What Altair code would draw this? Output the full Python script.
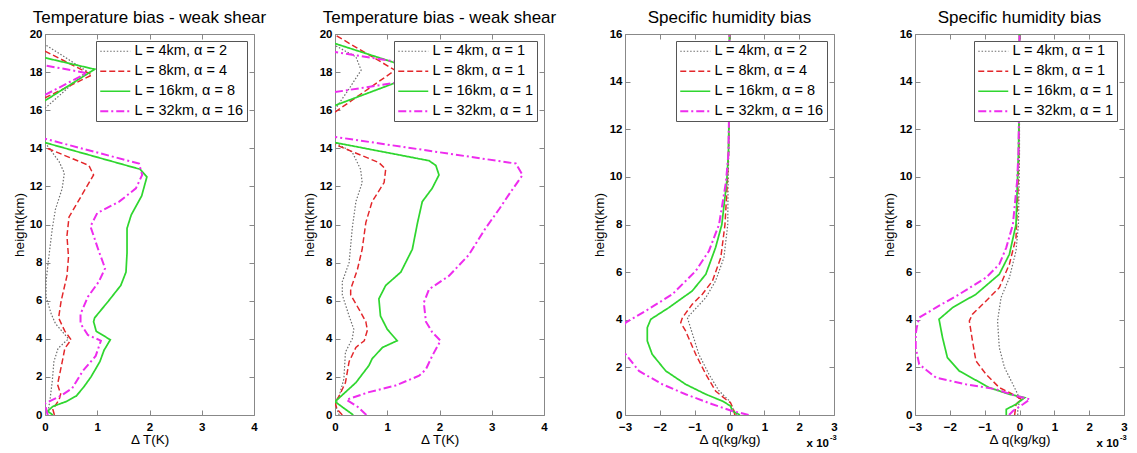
import altair as alt
import pandas as pd

# ---------------- labels / ticks ----------------
TITLE_T = "Temperature bias - weak shear"
TITLE_Q = "Specific humidity bias"
XTITLE_T = "Δ T(K)"
XTITLE_Q = "Δ q(kg/kg)"
YTITLE = "height(km)"
NOTE_MAIN = "x 10"
NOTE_EXP = "-3"
LABELS_A = ["L = 4km, α = 2", "L = 8km, α = 4", "L = 16km, α = 8", "L = 32km, α = 16"]
LABELS_B = ["L = 4km, α = 1", "L = 8km, α = 1", "L = 16km, α = 1", "L = 32km, α = 1"]
T_XTICKS = [0, 1, 2, 3, 4]
T_YTICKS = [0, 2, 4, 6, 8, 10, 12, 14, 16, 18, 20]
Q_XTICKS = [-3, -2, -1, 0, 1, 2, 3]
Q_YTICKS = [0, 2, 4, 6, 8, 10, 12, 14, 16]

# ---------------- panel 1: temperature bias, alpha varies ----------------
p1_gray_lo_h = [0, 0.9, 1.8, 2.8, 3.5, 4.0, 4.8, 5.3, 6.2, 7.0, 8.0, 9.8, 10.8, 11.9, 12.7, 13.3, 14.3]
p1_gray_lo_v = [0.05, 0.1, 0.14, 0.17, 0.25, 0.45, 0.2, 0.12, 0.02, 0.02, 0.06, 0.14, 0.2, 0.33, 0.37, 0.27, 0]
p1_gray_hi_h = [16.1, 18.05, 19.45]
p1_gray_hi_v = [0, 0.8, 0]
p1_red_lo_h = [0, 0.3, 0.8, 1.1, 1.6, 2.8, 3.5, 3.95, 4.4, 5.1, 6.0, 7.3, 8.3, 9.4, 10.4, 11.0, 11.9, 12.6, 13.1, 14.05]
p1_red_lo_v = [0.18, 0.15, 0.27, 0.3, 0.24, 0.33, 0.38, 0.5, 0.38, 0.26, 0.31, 0.42, 0.45, 0.42, 0.46, 0.59, 0.78, 0.93, 0.84, 0]
p1_red_hi_h = [16.65, 17.85, 19.1]
p1_red_hi_v = [0, 0.9, 0]
p1_green_lo_h = [0, 0.2, 0.45, 0.7, 1.0, 1.5, 2.0, 2.8, 3.4, 3.95, 4.4, 4.9, 5.1, 6.0, 6.8, 7.5, 8.5, 9.8, 10.5, 11.5, 12.5, 12.9, 14.3]
p1_green_lo_v = [0.15, 0.05, 0.15, 0.4, 0.6, 0.75, 0.88, 1.05, 1.13, 1.25, 0.98, 0.93, 0.95, 1.22, 1.45, 1.55, 1.57, 1.57, 1.65, 1.85, 1.95, 1.82, 0]
p1_green_hi_h = [16.5, 18.15, 18.75]
p1_green_hi_v = [0, 0.95, 0]
p1_mag_lo_h = [0, 0.6, 1.0, 1.4, 2.3, 3.1, 3.9, 4.2, 4.8, 5.3, 6.2, 7.0, 7.7, 8.6, 9.9, 10.6, 11.2, 11.9, 12.6, 13.2, 14.5]
p1_mag_lo_v = [0.05, 0, 0.3, 0.52, 0.72, 0.97, 1.07, 0.82, 0.68, 0.68, 0.82, 1.03, 1.15, 1.03, 0.87, 1.0, 1.42, 1.74, 1.86, 1.8, 0]
p1_mag_hi_h = [16.8, 17.95, 18.35]
p1_mag_hi_v = [0, 0.8, 0]

# ---------------- panel 2: temperature bias, alpha = 1 ----------------
p2_gray_lo_h = [0, 0.5, 1.0, 1.9, 3.3, 4.0, 4.5, 5.2, 6.3, 7.0, 8.0, 9.8, 11.2, 12.2, 12.9, 13.8, 14.3]
p2_gray_lo_v = [0.08, 0.01, 0.08, 0.17, 0.2, 0.33, 0.36, 0.27, 0.14, 0.14, 0.27, 0.33, 0.4, 0.52, 0.49, 0.33, 0]
p2_gray_hi_h = [16.05, 17.0, 18.1, 18.8, 19.4]
p2_gray_hi_v = [0, 0.24, 0.5, 0.4, 0]
p2_red_lo_h = [0, 0.3, 0.66, 1.0, 1.7, 2.8, 3.55, 3.9, 4.45, 4.9, 5.55, 6.3, 6.6, 7.65, 8.7, 10.1, 11.2, 12.2, 12.9, 13.25, 14.2]
p2_red_lo_v = [0.14, 0.04, 0, 0.08, 0.2, 0.27, 0.4, 0.56, 0.62, 0.59, 0.46, 0.3, 0.3, 0.43, 0.52, 0.59, 0.71, 0.94, 0.97, 0.84, 0]
p2_red_hi_h = [15.9, 18.1, 19.95]
p2_red_hi_v = [0, 1.15, 0]
p2_green_lo_h = [0, 0.3, 0.7, 1.7, 2.6, 2.95, 3.55, 3.9, 4.5, 5.2, 6.1, 6.8, 7.5, 8.7, 10.1, 11.2, 11.9, 12.6, 13.1, 13.35, 14.3]
p2_green_lo_v = [0.35, 0.2, 0, 0.4, 0.65, 0.71, 0.91, 1.19, 1.0, 0.87, 0.84, 0.97, 1.26, 1.48, 1.58, 1.67, 1.86, 1.99, 1.93, 1.8, 0]
p2_green_hi_h = [16.25, 18.0, 19.5]
p2_green_hi_v = [0, 1.7, 0]
p2_mag_lo_h = [0, 0.4, 0.8, 1.2, 1.55, 2.06, 2.4, 3.1, 3.9, 4.35, 4.9, 5.9, 6.6, 7.3, 8.4, 9.8, 10.8, 11.7, 12.6, 13.2, 14.6]
p2_mag_lo_v = [0.6, 0.45, 0.22, 0.65, 1.16, 1.61, 1.74, 1.86, 2.02, 1.86, 1.74, 1.7, 1.8, 2.18, 2.56, 2.88, 3.14, 3.36, 3.59, 3.46, 0]
p2_mag_hi_h = [16.95, 18.0, 19.05]
p2_mag_hi_v = [0, 2.45, 0]

# ---------------- panel 3: humidity bias (x 1e-3), alpha varies ----------------
p3_gray_h = [0, 0.17, 0.59, 1.01, 1.71, 2.55, 3.67, 4.09, 4.93, 5.63, 6.61, 8.0, 9.8, 11, 13, 16]
p3_gray_v = [0.2, 0.13, 0, -0.3, -0.59, -0.88, -1.12, -1.21, -0.68, -0.4, -0.16, -0.05, -0.04, -0.02, -0.01, 0]
p3_red_h = [0, 0.17, 0.52, 0.66, 1.01, 1.71, 2.55, 3.53, 3.88, 4.09, 4.65, 5.07, 5.63, 6.61, 8.0, 9.8, 11, 13, 16]
p3_red_v = [0.15, 0.13, 0.03, -0.11, -0.4, -0.68, -0.97, -1.26, -1.4, -1.35, -1.07, -0.78, -0.49, -0.25, -0.13, -0.06, -0.03, -0.01, 0]
p3_green_h = [0, 0.17, 0.38, 0.59, 0.87, 1.29, 1.85, 2.55, 3.11, 3.67, 4.02, 4.51, 5.21, 5.91, 7.03, 8.0, 9.8, 11, 13, 16]
p3_green_v = [0.3, 0.08, 0.03, -0.21, -0.68, -1.26, -1.83, -2.22, -2.36, -2.36, -2.26, -1.74, -1.07, -0.68, -0.4, -0.22, -0.08, -0.03, -0.01, 0]
p3_mag_h = [0, 0.17, 0.45, 0.87, 1.29, 1.85, 2.55, 3.2, 3.88, 4.37, 5.07, 6.05, 6.89, 8.0, 9.8, 11, 13, 16]
p3_mag_v = [0.55, 0.08, -0.49, -1.26, -1.93, -2.6, -2.98, -3.3, -2.98, -2.41, -1.64, -0.97, -0.59, -0.3, -0.1, -0.03, -0.01, 0]

# ---------------- panel 4: humidity bias (x 1e-3), alpha = 1 ----------------
p4_gray_h = [0, 0.17, 0.59, 0.87, 1.29, 1.99, 2.83, 3.95, 4.93, 5.77, 6.89, 8.0, 9.8, 11, 13, 16]
p4_gray_v = [-0.05, -0.05, 0, -0.05, -0.19, -0.43, -0.58, -0.63, -0.53, -0.29, -0.1, -0.03, -0.01, 0, 0, 0]
p4_red_h = [0, 0.45, 0.66, 0.87, 1.15, 1.71, 2.27, 3.11, 3.95, 4.23, 4.79, 5.35, 6.33, 7.45, 9.13, 11, 13, 16]
p4_red_v = [-0.14, -0.1, 0.05, -0.19, -0.58, -0.96, -1.25, -1.35, -1.44, -1.35, -0.96, -0.58, -0.29, -0.1, -0.05, -0.02, -0.01, 0]
p4_green_h = [0, 0.24, 0.45, 0.73, 0.87, 1.15, 1.85, 2.41, 3.25, 4.02, 4.51, 5.07, 5.91, 6.75, 8.0, 9.8, 11, 13, 16]
p4_green_v = [-0.38, -0.38, -0.1, 0.15, -0.29, -0.87, -1.73, -2.07, -2.21, -2.31, -1.92, -1.25, -0.58, -0.29, -0.1, -0.06, -0.03, -0.01, 0]
p4_mag_h = [0, 0.17, 0.45, 0.66, 0.8, 1.08, 1.29, 1.57, 2.13, 2.83, 3.4, 3.67, 4.09, 4.51, 5.07, 5.77, 6.33, 7.03, 8.0, 9.8, 11, 13, 16]
p4_mag_v = [-0.3, -0.19, 0.1, 0.3, -0.1, -0.67, -1.54, -2.4, -2.88, -2.98, -2.98, -2.95, -2.88, -2.4, -1.73, -0.96, -0.58, -0.38, -0.19, -0.07, -0.03, -0.01, 0]

# ---------------- styles ----------------
COLORS = ["#6e6e6e", "#e3262a", "#2fd62f", "#ee2cee"]
DASHES = [[1.5, 1.8], [6, 3], [1, 0], [8, 3, 2, 3]]
WIDTHS = [1.2, 2, 2, 2]
FONT = "Liberation Sans"
PW, PH = 209, 381


def frame(series, labels):
    rows = []
    for label, segs in zip(labels, series):
        for si, (hs, vs) in enumerate(segs):
            for h, v in zip(hs, vs):
                rows.append({"series": label, "seg": f"{label}|{si}", "h": h, "v": v})
    return pd.DataFrame(rows)


df1 = frame([
    [(p1_gray_lo_h, p1_gray_lo_v), (p1_gray_hi_h, p1_gray_hi_v)],
    [(p1_red_lo_h, p1_red_lo_v), (p1_red_hi_h, p1_red_hi_v)],
    [(p1_green_lo_h, p1_green_lo_v), (p1_green_hi_h, p1_green_hi_v)],
    [(p1_mag_lo_h, p1_mag_lo_v), (p1_mag_hi_h, p1_mag_hi_v)],
], LABELS_A)
df2 = frame([
    [(p2_gray_lo_h, p2_gray_lo_v), (p2_gray_hi_h, p2_gray_hi_v)],
    [(p2_red_lo_h, p2_red_lo_v), (p2_red_hi_h, p2_red_hi_v)],
    [(p2_green_lo_h, p2_green_lo_v), (p2_green_hi_h, p2_green_hi_v)],
    [(p2_mag_lo_h, p2_mag_lo_v), (p2_mag_hi_h, p2_mag_hi_v)],
], LABELS_B)
df3 = frame([
    [(p3_gray_h, p3_gray_v)], [(p3_red_h, p3_red_v)],
    [(p3_green_h, p3_green_v)], [(p3_mag_h, p3_mag_v)],
], LABELS_A)
df4 = frame([
    [(p4_gray_h, p4_gray_v)], [(p4_red_h, p4_red_v)],
    [(p4_green_h, p4_green_v)], [(p4_mag_h, p4_mag_v)],
], LABELS_B)


def panel(df, labels, title, xdom, xticks, ydom, yticks, xtitle, note=False):
    xs = alt.Scale(domain=xdom, nice=False, zero=False)
    ys = alt.Scale(domain=ydom, nice=False, zero=False)
    leg = alt.Legend(title=None, orient="top-right", offset=7, padding=3,
                     fillColor="white", strokeColor="#555555",
                     labelFontSize=14.5, labelFont=FONT, labelColor="black",
                     symbolType="M-1,0H4", symbolSize=144, symbolStrokeWidth=2,
                     rowPadding=5, labelOffset=21, zindex=1)
    base = alt.Chart(df)
    lines = base.mark_line(clip=True).encode(
        x=alt.X("v:Q", scale=xs, axis=alt.Axis(values=xticks, title=xtitle, offset=-5, tickSize=5,
                                                domain=False, labelPadding=6, titlePadding=0,
                                                labelFlush=False)),
        y=alt.Y("h:Q", scale=ys, axis=alt.Axis(values=yticks, title=YTITLE, offset=-5, tickSize=5,
                                                domain=False, labelPadding=3, titlePadding=3,
                                                labelFlush=False)),
        color=alt.Color("series:N", scale=alt.Scale(domain=labels, range=COLORS), legend=leg),
        strokeDash=alt.StrokeDash("series:N", scale=alt.Scale(domain=labels, range=DASHES), legend=leg),
        strokeWidth=alt.StrokeWidth("series:N", scale=alt.Scale(domain=labels, range=WIDTHS), legend=None),
        detail="seg:N",
        order="h:Q",
    )
    mirror = base.mark_line(strokeOpacity=0).encode(
        x=alt.X("v:Q", scale=xs, axis=alt.Axis(orient="top", values=xticks, labels=False, title=None,
                                                offset=-5, tickSize=5, domain=False)),
        y=alt.Y("h:Q", scale=ys, axis=alt.Axis(orient="right", values=yticks, labels=False, title=None,
                                                offset=-5, tickSize=5, domain=False)),
        detail="seg:N",
        order="h:Q",
    )
    layers = [lines, mirror]
    if note:
        ndf = pd.DataFrame({"t": [NOTE_MAIN], "e": [NOTE_EXP]})
        layers.append(alt.Chart(ndf).mark_text(align="right", baseline="middle", font=FONT,
                                               fontSize=11.5, fontWeight="bold", color="black").encode(
            text="t:N", x=alt.value(PW - 5), y=alt.value(PH + 29)))
        layers.append(alt.Chart(ndf).mark_text(align="left", baseline="middle", font=FONT,
                                               fontSize=7.5, fontWeight="bold", color="black").encode(
            text="e:N", x=alt.value(PW - 4), y=alt.value(PH + 23)))
    return alt.layer(*layers).resolve_axis(x="independent", y="independent").properties(
        width=PW, height=PH,
        title=alt.TitleParams(title, font=FONT, fontSize=17, fontWeight="normal", color="black",
                              anchor="middle", frame="group", offset=1))


p1 = panel(df1, LABELS_A, TITLE_T, [0, 4], T_XTICKS, [0, 20], T_YTICKS, XTITLE_T)
p2 = panel(df2, LABELS_B, TITLE_T, [0, 4], T_XTICKS, [0, 20], T_YTICKS, XTITLE_T)
p3 = panel(df3, LABELS_A, TITLE_Q, [-3, 3], Q_XTICKS, [0, 16], Q_YTICKS, XTITLE_Q, note=True)
p4 = panel(df4, LABELS_B, TITLE_Q, [-3, 3], Q_XTICKS, [0, 16], Q_YTICKS, XTITLE_Q, note=True)

chart = alt.hconcat(p1, p2, p3, p4, spacing=81, bounds="flush").resolve_scale(
    color="independent", strokeDash="independent", strokeWidth="independent"
).resolve_legend(color="independent", strokeDash="independent").properties(
    padding={"left": 3, "top": 0, "right": 0, "bottom": 2}
).configure_axis(
    labelFont=FONT, labelFontSize=11.5, labelFontWeight="bold", labelColor="black",
    titleFont=FONT, titleFontSize=13.5, titleFontWeight="normal", titleColor="black",
    tickColor="#888888", grid=False, labelFlush=False,
).configure_view(stroke="#888888", strokeWidth=1).configure_legend(zindex=1)

chart.save("out.html", embed_options={"renderer": "svg", "actions": False})
